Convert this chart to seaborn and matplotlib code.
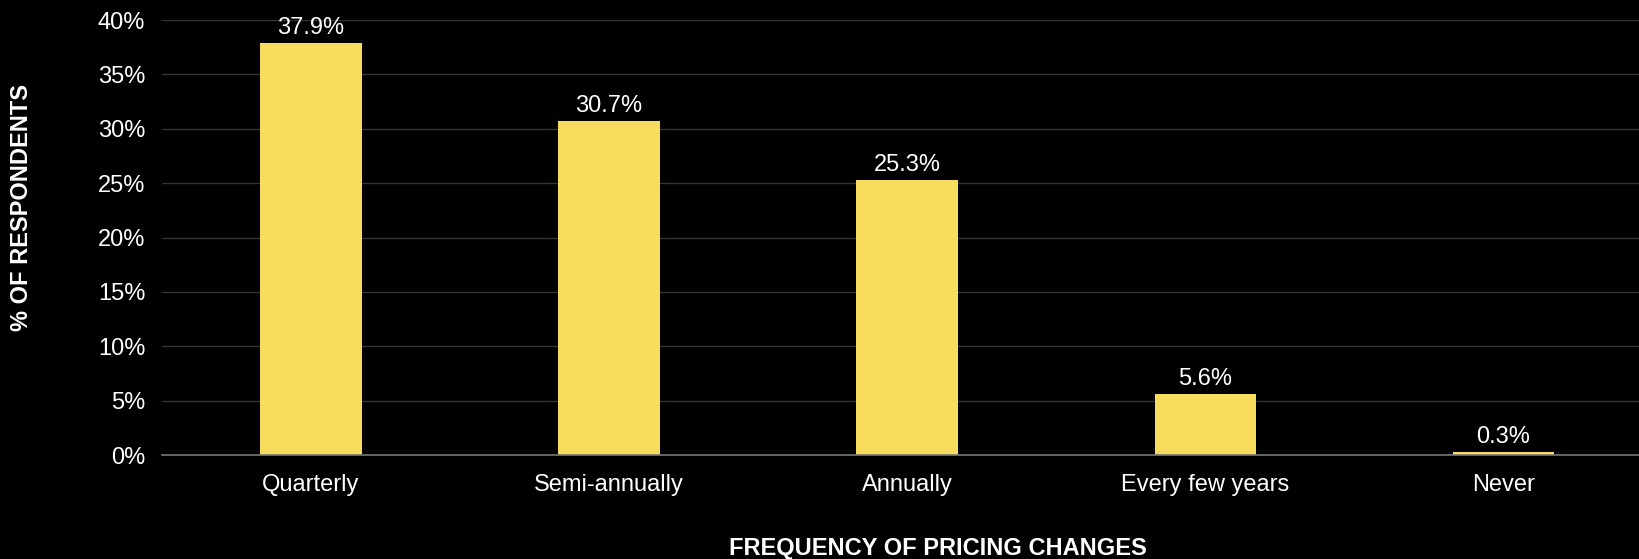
import matplotlib
matplotlib.use("Agg")
import matplotlib.pyplot as plt
import seaborn as sns
import pandas as pd

categories = ["Quarterly", "Semi-annually", "Annually", "Every few years", "Never"]
values = [37.9, 30.7, 25.3, 5.6, 0.3]
yticks = [0, 5, 10, 15, 20, 25, 30, 35, 40]

sns.set_theme(style="dark")
plt.rcParams['font.family'] = ['Liberation Sans', 'DejaVu Sans']

df = pd.DataFrame({"cat": categories, "val": values})

fig = plt.figure(figsize=(16.39, 5.59), dpi=100, facecolor="black")
ax = fig.add_axes([0.0988, 0.186, 0.9012, 0.778])
ax.set_facecolor("black")

sns.barplot(data=df, x="cat", y="val", color="#F8DC5E", width=0.34, ax=ax,
            saturation=1, edgecolor="none", linewidth=0)

ax.set_xlim(-0.5, 4.455)
ax.set_ylim(0, 40)
ax.set_yticks(yticks)
ax.set_yticklabels([f"{t}%" for t in yticks], color="white", fontsize=17)
for lab in ax.get_xticklabels():
    lab.set_color("white")
    lab.set_fontsize(17)
ax.tick_params(axis="y", length=0, pad=12)
ax.tick_params(axis="x", length=0, pad=14)

ax.yaxis.grid(True, color="#333333", linewidth=1)
ax.xaxis.grid(False)
ax.set_axisbelow(True)
for s in ["top", "right", "left"]:
    ax.spines[s].set_visible(False)
ax.spines["bottom"].set_color("#777777")
ax.spines["bottom"].set_linewidth(1.2)

for i, v in enumerate(values):
    ax.text(i, v + 0.35, f"{v}%", ha="center", va="bottom", color="white", fontsize=17)

ax.set_xlabel("")
ax.set_ylabel("")
fig.text(0.013, 0.628, "% OF RESPONDENTS", rotation=90, ha="center", va="center",
         color="white", fontsize=17, fontweight="bold")
fig.text(0.572, 0.019, "FREQUENCY OF PRICING CHANGES", ha="center", va="center",
         color="white", fontsize=17, fontweight="bold")

fig.savefig("out.png", dpi=100, facecolor="black")
